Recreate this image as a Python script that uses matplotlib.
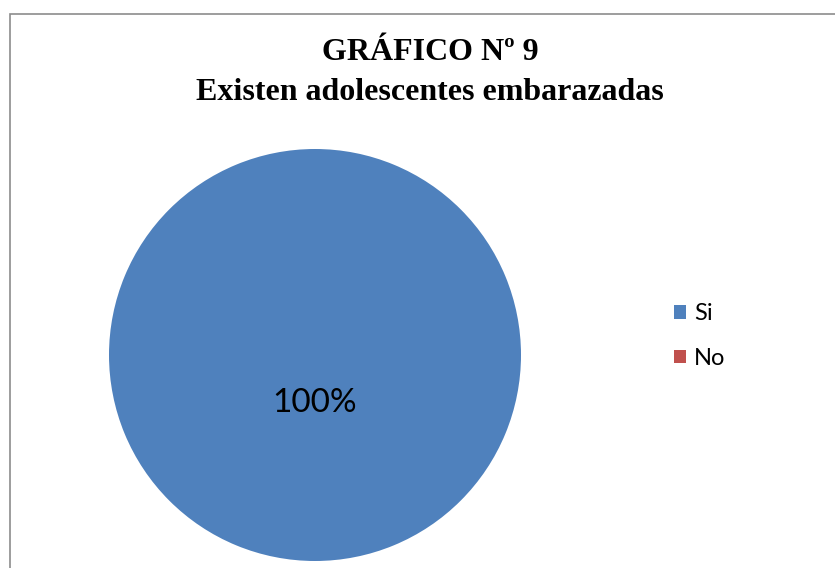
import matplotlib
matplotlib.use('Agg')
import matplotlib.pyplot as plt
from matplotlib.patches import Rectangle

# data
labels = ['Si', 'No']
values = [100, 0]
colors = ['#4F81BD', '#C0504D']
title = 'GRÁFICO Nº 9\nExisten adolescentes embarazadas'

W, H = 835, 568
fig = plt.figure(figsize=(W / 100, H / 100), dpi=100)
fig.patch.set_facecolor('white')

# chart frame (cut off on right and bottom)
fig.patches.append(Rectangle((10 / W, -0.1), 1.2, 1.1 - 14 / H,
                             transform=fig.transFigure, fill=False,
                             edgecolor='#8c8c8c', linewidth=1.2))

cx, cy, r = 315, 355, 206
ax = fig.add_axes([(cx - r) / W, (H - cy - r) / H, 2 * r / W, 2 * r / H])

def pct(p):
    return '%d%%' % round(p) if p > 0 else ''

wedges, texts, autotexts = ax.pie(values, colors=colors, startangle=90,
                                  autopct=pct, pctdistance=0.235,
                                  wedgeprops={'linewidth': 0})
for t in autotexts:
    t.set_fontsize(24)
    t.set_fontfamily('Lato')
    t.set_color('black')
ax.set_xlim(-1, 1)
ax.set_ylim(-1, 1)

fig.text(430 / W, 1 - 72 / H, title, ha='center', va='center',
         fontsize=23, fontweight='bold', family='Liberation Serif',
         linespacing=1.5)

leg = fig.legend(wedges, labels, loc='upper left',
                 bbox_to_anchor=(653 / W, 1 - 282 / H), frameon=False,
                 handlelength=0.5, handleheight=0.5, handletextpad=0.35,
                 labelspacing=1.0, prop={'family': 'Lato', 'size': 17})

fig.savefig('out.png', dpi=100)
